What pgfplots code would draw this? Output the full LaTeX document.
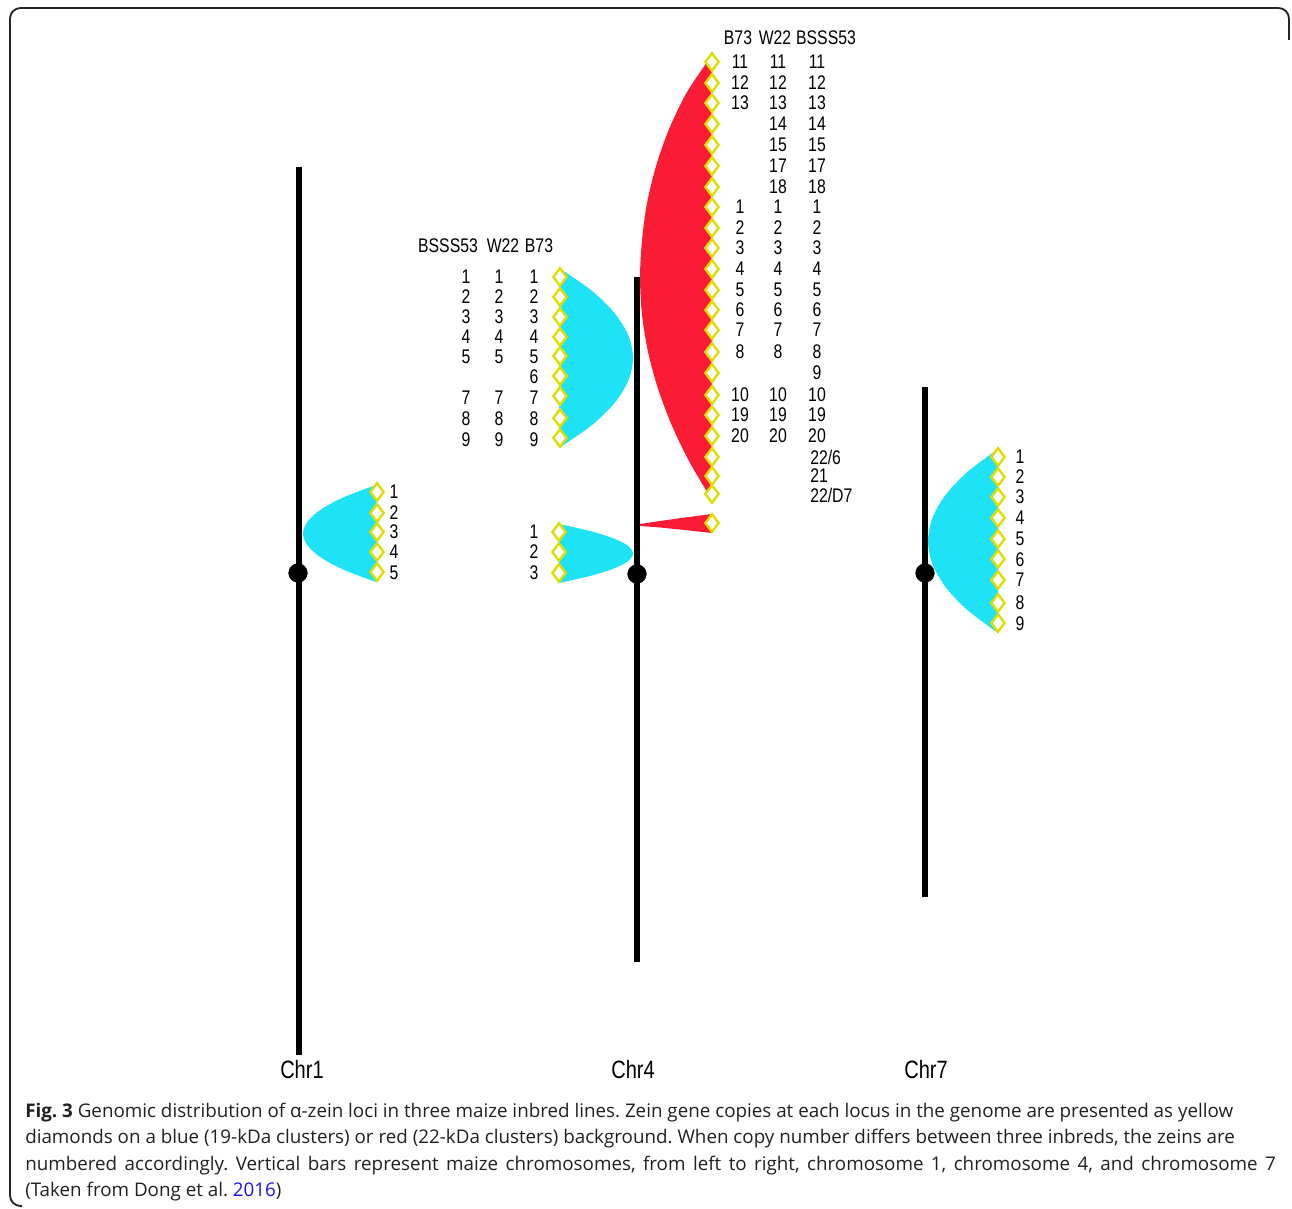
\documentclass[border=0pt]{standalone}
\usepackage{pgfplots}
\pgfplotsset{compat=1.18}
\usepackage{fontspec}
\setmainfont{Open Sans}
\newfontfamily\arialf{Liberation Sans}
\definecolor{zblue}{RGB}{30,226,245}
\definecolor{zred}{RGB}{250,28,52}
\definecolor{zyel}{RGB}{222,222,0}
\definecolor{linkblue}{RGB}{20,20,230}
\definecolor{captxt}{RGB}{35,31,32}
\newcommand{\nl}[1]{{\arialf\fontsize{14.8}{16}\selectfont\scalebox{0.8}[1]{#1}}}
\newcommand{\cl}[1]{{\arialf\fontsize{18.8}{20}\selectfont\scalebox{0.8}[1]{#1}}}
\newcommand{\T}[3]{\node[inner sep=0pt, anchor=center] at (axis cs:#1,#2) {\nl{#3}};}
\newcommand{\TL}[3]{\node[inner sep=0pt, anchor=west] at (axis cs:#1,#2) {\nl{#3}};}
\frenchspacing
\begin{document}
\begin{tikzpicture}
\begin{axis}[scale only axis, width=969pt, height=906.75pt,
  xmin=0, xmax=1292, ymin=0, ymax=1209, y dir=reverse,
  axis lines=none, clip=false]

% page extent
\addplot[draw=none, forget plot] coordinates {(0,0) (1292,1209)};

% frame
\addplot[line width=1.4pt, color=black!85, rounded corners=8pt] coordinates {(22,1206) (10,1206) (10,8) (1289,8) (1289,40)};

% chromosomes
\addplot[line width=3.9pt, black] coordinates {(299,167) (299,1055)};
\addplot[line width=3.9pt, black] coordinates {(637,277) (637,962)};
\addplot[line width=3.9pt, black] coordinates {(925,387) (925,897)};

% Chr1 blue cluster
\addplot[fill=zblue, draw=none, smooth] coordinates {(376,485) (344.1,497.1) (321.25,509.25) (307.6,521.4) (303,533.5) (307.6,545.6) (321.25,557.75) (344.1,569.9) (376,582)} -- cycle;
% Chr4 upper blue
\addplot[fill=zblue, draw=none, smooth] coordinates {(559,268) (591.4,290.5) (614.5,313) (628.4,335.5) (633,358) (628.4,380.5) (614.5,403) (591.4,425.5) (559,448)} -- cycle;
% Chr4 lower blue
\addplot[fill=zblue, draw=none, smooth] coordinates {(559,524) (591.4,531.4) (614.5,538.75) (628.4,546.1) (633,553.5) (628.4,560.9) (614.5,568.25) (591.4,575.6) (559,583)} -- cycle;
% Chr7 blue
\addplot[fill=zblue, draw=none, smooth] coordinates {(998,449) (967.4,472) (945.5,495) (932.4,518) (928,541) (932.4,564) (945.5,587) (967.4,610) (998,633)} -- cycle;
% Chr4 red big
\addplot[fill=zred, draw=none, smooth] coordinates {(712,55) (687,92.1) (669,129.2) (656,166.25) (647,203.3) (642,240.4) (640,277.5) (642,314.6) (648,351.7) (658,388.75) (672,425.8) (690,462.9) (712,500)} -- cycle;
% Chr4 red small wedge
\addplot[fill=zred, draw=none] coordinates {(640,524) (660,521) (685,517.5) (712,514) (712,533) (685,530) (660,527.5) (640,526)} -- cycle;

% centromeres
\addplot[only marks, mark=*, mark size=7pt, black] coordinates {(298,573) (637,574) (925,573)};

% diamonds
\pgfplotsset{zd/.style={only marks, mark=diamond*, mark size=6.6pt, mark options={fill=white, draw=zyel, line width=1.8pt}}}
\addplot[zd] coordinates {(377,492) (377,513) (377,532) (377,552) (377,572)};
\addplot[zd] coordinates {(560,277) (560,297) (560,317) (560,337) (560,356) (560,376) (560,396) (560,418) (560,438)};
\addplot[zd] coordinates {(559,532) (559,552) (559,573)};
\addplot[zd] coordinates {(998,457) (998,477) (998,497) (998,518) (998,539) (998,559) (998,580) (998,603) (998,623)};
\addplot[zd] coordinates {(712,62) (712,83) (712,103) (712,124) (712,145) (712,166) (712,187) (712,207) (712,228) (712,248) (712,269) (712,290) (712,310) (712,330) (712,352) (712,373) (712,395) (712,415) (712,436) (712,457) (712,476) (712,494) (712,523)};

% Chr1 labels
\T{394}{492}{1}\T{394}{513}{2}\T{394}{532}{3}\T{394}{552}{4}\T{394}{573}{5}
% Chr7 labels
\T{1020}{457}{1}\T{1020}{477}{2}\T{1020}{497}{3}\T{1020}{518}{4}\T{1020}{539}{5}\T{1020}{560}{6}\T{1020}{580}{7}\T{1020}{603}{8}\T{1020}{624}{9}
% Chr4 lower labels
\T{534}{532}{1}\T{534}{552}{2}\T{534}{573}{3}
% Chr4 upper blue labels
\T{448}{246}{BSSS53}\T{503}{246}{W22}\T{539}{246}{B73}
\T{466}{277}{1}\T{499}{277}{1}\T{534}{277}{1}
\T{466}{297}{2}\T{499}{297}{2}\T{534}{297}{2}
\T{466}{317}{3}\T{499}{317}{3}\T{534}{317}{3}
\T{466}{337}{4}\T{499}{337}{4}\T{534}{337}{4}
\T{466}{357}{5}\T{499}{357}{5}\T{534}{357}{5}
\T{534}{377}{6}
\T{466}{398}{7}\T{499}{398}{7}\T{534}{398}{7}
\T{466}{419}{8}\T{499}{419}{8}\T{534}{419}{8}
\T{466}{440}{9}\T{499}{440}{9}\T{534}{440}{9}
% Chr4 red labels
\T{738}{38}{B73}\T{775}{38}{W22}\T{826}{38}{BSSS53}
\T{740}{62}{11}\T{778}{62}{11}\T{817}{62}{11}
\T{740}{83}{12}\T{778}{83}{12}\T{817}{83}{12}
\T{740}{103}{13}\T{778}{103}{13}\T{817}{103}{13}
\T{778}{124}{14}\T{817}{124}{14}
\T{778}{145}{15}\T{817}{145}{15}
\T{778}{166}{17}\T{817}{166}{17}
\T{778}{187}{18}\T{817}{187}{18}
\T{740}{207}{1}\T{778}{207}{1}\T{817}{207}{1}
\T{740}{228}{2}\T{778}{228}{2}\T{817}{228}{2}
\T{740}{248}{3}\T{778}{248}{3}\T{817}{248}{3}
\T{740}{269}{4}\T{778}{269}{4}\T{817}{269}{4}
\T{740}{290}{5}\T{778}{290}{5}\T{817}{290}{5}
\T{740}{310}{6}\T{778}{310}{6}\T{817}{310}{6}
\T{740}{330}{7}\T{778}{330}{7}\T{817}{330}{7}
\T{740}{352}{8}\T{778}{352}{8}\T{817}{352}{8}
\T{817}{373}{9}
\T{740}{395}{10}\T{778}{395}{10}\T{817}{395}{10}
\T{740}{415}{19}\T{778}{415}{19}\T{817}{415}{19}
\T{740}{436}{20}\T{778}{436}{20}\T{817}{436}{20}
\TL{810}{457}{22/6}
\TL{810}{476}{21}
\TL{810}{495}{22/D7}

% chromosome names
\node[inner sep=0pt] at (axis cs:302,1070) {\cl{Chr1}};
\node[inner sep=0pt] at (axis cs:633,1070) {\cl{Chr4}};
\node[inner sep=0pt] at (axis cs:926,1070) {\cl{Chr7}};

% caption
\node[inner sep=0pt, anchor=base west, text=captxt, font=\fontsize{14.1}{16}\selectfont] at (axis cs:25,1117) {\textbf{Fig. 3} Genomic distribution of α-zein loci in three maize inbred lines. Zein gene copies at each locus in the genome are presented as yellow};
\node[inner sep=0pt, anchor=base west, text=captxt, font=\fontsize{14.1}{16}\selectfont] at (axis cs:25,1143.5) {diamonds on a blue (19-kDa clusters) or red (22-kDa clusters) background. When copy number differs between three inbreds, the zeins are};
\node[inner sep=0pt, anchor=base west, text=captxt, font=\fontsize{14.1}{16}\selectfont] at (axis cs:25,1170) {\makebox[938pt][s]{numbered accordingly. Vertical bars represent maize chromosomes, from left to right, chromosome 1, chromosome 4, and chromosome 7}};
\node[inner sep=0pt, anchor=base west, text=captxt, font=\fontsize{14.1}{16}\selectfont] at (axis cs:25,1196.5) {(Taken from Dong et al. \textcolor{linkblue}{2016})};
\end{axis}
\end{tikzpicture}
\end{document}
